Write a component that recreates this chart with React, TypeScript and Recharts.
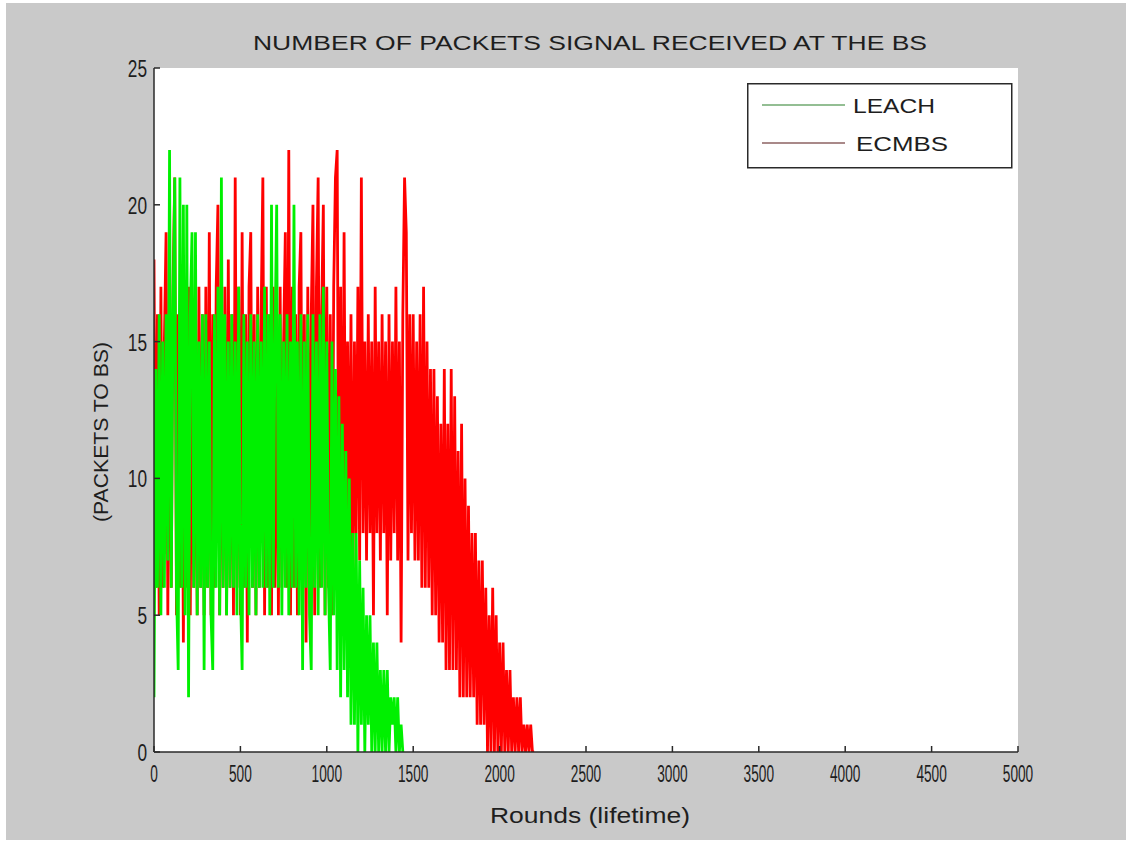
import React from 'react';
import { LineChart, Line, XAxis, YAxis, Legend } from 'recharts';

// packets received per round, sampled every ROUND_STEP rounds
const ROUND_STEP = 10;

const LEACH_PACKETS = [
  2, 14, 6, 16, 5, 15, 6, 16, 7, 22,
  6, 16, 21, 6, 3, 21, 6, 20, 5, 20,
  2, 16, 19, 6, 19, 5, 15, 6, 16, 3,
  16, 6, 15, 5, 3, 16, 6, 17, 5, 21,
  6, 16, 5, 15, 6, 16, 6, 15, 5, 17,
  6, 3, 16, 6, 15, 5, 16, 6, 15, 5,
  16, 6, 15, 6, 17, 6, 16, 5, 20, 6,
  15, 20, 6, 16, 5, 15, 6, 16, 5, 15,
  6, 20, 6, 15, 5, 16, 3, 15, 6, 16,
  5, 3, 16, 6, 15, 5, 16, 6, 17, 5,
  15, 6, 3, 15, 5, 14, 3, 13, 2, 12,
  3, 11, 2, 10, 1, 8, 1, 8, 0, 7,
  1, 6, 0, 5, 1, 5, 0, 4, 0, 4,
  0, 3, 0, 3, 0, 3, 0, 2, 1, 2,
  0, 2, 0, 1, 0,
];

const ECMBS_PACKETS = [
  18, 6, 16, 5, 17, 6, 15, 19, 5, 16,
  6, 17, 21, 5, 16, 6, 17, 4, 16, 6,
  17, 5, 16, 6, 15, 5, 17, 6, 16, 5,
  17, 6, 19, 5, 16, 6, 17, 20, 5, 16,
  6, 17, 5, 18, 6, 16, 5, 21, 6, 17,
  5, 19, 6, 16, 4, 17, 19, 6, 16, 5,
  17, 6, 16, 21, 5, 17, 6, 16, 5, 17,
  6, 16, 5, 17, 6, 15, 19, 6, 22, 5,
  17, 6, 16, 5, 17, 19, 6, 16, 4, 17,
  6, 16, 20, 5, 17, 21, 6, 16, 20, 5,
  17, 6, 16, 5, 17, 21, 22, 6, 17, 5,
  19, 7, 15, 8, 16, 5, 15, 8, 17, 7,
  21, 8, 15, 7, 16, 8, 15, 5, 17, 8,
  15, 7, 16, 8, 15, 5, 16, 7, 15, 8,
  17, 7, 15, 4, 16, 21, 19, 7, 16, 8,
  16, 7, 15, 7, 16, 6, 17, 6, 15, 6,
  14, 5, 14, 5, 13, 4, 12, 4, 14, 3,
  12, 3, 14, 3, 13, 3, 11, 2, 12, 2,
  10, 2, 9, 2, 8, 2, 8, 1, 7, 1,
  7, 1, 6, 0, 5, 0, 6, 0, 5, 0,
  4, 0, 4, 0, 3, 0, 3, 0, 2, 0,
  2, 0, 2, 0, 1, 0, 1, 0, 1, 0,
  0,
];

const X_TICKS = [0, 500, 1000, 1500, 2000, 2500, 3000, 3500, 4000, 4500, 5000];
const Y_TICKS = [0, 5, 10, 15, 20, 25];

const leachData = LEACH_PACKETS.map((packets, i) => ({ round: i * ROUND_STEP, packets }));
const ecmbsData = ECMBS_PACKETS.map((packets, i) => ({ round: i * ROUND_STEP, packets }));

const FONT = '"Liberation Sans", Arial, sans-serif';
const AXIS_COLOR = '#2a2a2a';
const TEXT_COLOR = '#1e1e1e';
const TICK_MARGIN = 8;
const TICK_LEN = 6;

// narrow tick numbers, squeezed sideways only
const NarrowText = ({ x, y, scaleX, anchor, children }: any) => (
  <text transform={`translate(${x},${y}) scale(${scaleX},1)`} x={0} y={0} textAnchor={anchor}
    fontFamily={FONT} fontSize={24} style={{ fontSize: 24 }} fill={TEXT_COLOR}>{children}</text>
);

// matlab style: ticks point into the plot box
const BottomTick = (props: any) => {
  const { x, y, payload } = props;
  const axisY = y - TICK_MARGIN;
  return (
    <g>
      <line x1={x} x2={x} y1={axisY} y2={axisY - TICK_LEN} stroke={AXIS_COLOR} strokeWidth={1.5} />
      <NarrowText x={x} y={axisY + 30} scaleX={0.57} anchor="middle">{payload.value}</NarrowText>
    </g>
  );
};

const LeftTick = (props: any) => {
  const { x, y, payload } = props;
  const axisX = x + TICK_MARGIN;
  return (
    <g>
      <line x1={axisX} x2={axisX + TICK_LEN} y1={y} y2={y} stroke={AXIS_COLOR} strokeWidth={1.5} />
      <NarrowText x={axisX - 7} y={y + 9} scaleX={0.72} anchor="end">{payload.value}</NarrowText>
    </g>
  );
};

const TopTick = (props: any) => {
  const { x, y } = props;
  const axisY = y + TICK_MARGIN;
  return <line x1={x} x2={x} y1={axisY} y2={axisY + TICK_LEN} stroke={AXIS_COLOR} strokeWidth={1.5} />;
};

const RightTick = (props: any) => {
  const { x, y } = props;
  const axisX = x - TICK_MARGIN;
  return <line x1={axisX} x2={axisX - TICK_LEN} y1={y} y2={y} stroke={AXIS_COLOR} strokeWidth={1.5} />;
};

const renderLegend = () => (
  <svg width={266} height={86}>
    <rect x={0.75} y={0.75} width={264} height={84} fill="#fff" stroke={AXIS_COLOR} strokeWidth={1.5} />
    <line x1={15} x2={98} y1={22} y2={22} stroke="#6fa86f" strokeWidth={1.5} />
    <text x={106} y={30} fontFamily={FONT} fontSize={21} fill={TEXT_COLOR} textLength={82} lengthAdjust="spacingAndGlyphs">LEACH</text>
    <line x1={15} x2={98} y1={60} y2={60} stroke="#8c6262" strokeWidth={1.5} />
    <text x={109} y={68} fontFamily={FONT} fontSize={21} fill={TEXT_COLOR} textLength={92} lengthAdjust="spacingAndGlyphs">ECMBS</text>
  </svg>
);

export default function App() {
  return (
    <div style={{ position: 'fixed', left: 0, top: 0, width: 1127, height: 843, background: '#fff' }}>
      <div style={{ position: 'absolute', left: 6, top: 3, right: 1, bottom: 3, background: '#c9c9c9' }} />
      <div style={{ position: 'absolute', left: 0, top: 0 }}>
        <LineChart width={1127} height={843} margin={{ top: 68, right: 109, bottom: 61, left: 114 }}>
          <rect x={154} y={68} width={864} height={684} fill="#fff" />
          <XAxis dataKey="round" type="number" domain={[0, 5000]} ticks={X_TICKS} allowDataOverflow
            height={30} tickSize={0} tickMargin={TICK_MARGIN} tick={<BottomTick />}
            axisLine={{ stroke: AXIS_COLOR, strokeWidth: 1.5 }} tickLine={false} interval={0} />
          <XAxis xAxisId="top" orientation="top" dataKey="round" type="number" domain={[0, 5000]} ticks={X_TICKS}
            allowDataOverflow height={0} tickSize={0} tickMargin={TICK_MARGIN} tick={<TopTick />}
            axisLine={{ stroke: AXIS_COLOR, strokeWidth: 1.5 }} tickLine={false} interval={0} />
          <YAxis type="number" domain={[0, 25]} ticks={Y_TICKS} allowDataOverflow width={40}
            tickSize={0} tickMargin={TICK_MARGIN} tick={<LeftTick />}
            axisLine={{ stroke: AXIS_COLOR, strokeWidth: 1.5 }} tickLine={false} interval={0} />
          <YAxis yAxisId="right" orientation="right" type="number" domain={[0, 25]} ticks={Y_TICKS} allowDataOverflow
            width={0} tickSize={0} tickMargin={TICK_MARGIN} tick={<RightTick />}
            axisLine={{ stroke: AXIS_COLOR, strokeWidth: 1.5 }} tickLine={false} interval={0} />
          <Line data={ecmbsData} dataKey="packets" name="ECMBS" stroke="#ff0000" strokeWidth={2.8}
            dot={false} activeDot={false} isAnimationActive={false} type="linear" />
          <Line data={leachData} dataKey="packets" name="LEACH" stroke="#00f000" strokeWidth={2.8}
            dot={false} activeDot={false} isAnimationActive={false} type="linear" />
          <Legend layout="vertical" align="center" verticalAlign="middle" content={renderLegend}
            wrapperStyle={{ position: 'absolute', left: 747, top: 83, width: 266, height: 86 }} />
        </LineChart>
      </div>
      <svg width={1127} height={843} style={{ position: 'absolute', left: 0, top: 0, pointerEvents: 'none' }}>
        <text x={590} y={50} textAnchor="middle" fontFamily={FONT} fontSize={20} fill={TEXT_COLOR}
          textLength={674} lengthAdjust="spacingAndGlyphs">NUMBER OF PACKETS SIGNAL RECEIVED AT THE BS</text>
        <text x={590} y={823} textAnchor="middle" fontFamily={FONT} fontSize={22} fill={TEXT_COLOR}
          textLength={200} lengthAdjust="spacingAndGlyphs">Rounds (lifetime)</text>
        <text transform="translate(108, 432) rotate(-90)" textAnchor="middle" fontFamily={FONT} fontSize={20} fill={TEXT_COLOR}
          textLength={180} lengthAdjust="spacingAndGlyphs">(PACKETS TO BS)</text>
      </svg>
    </div>
  );
}
